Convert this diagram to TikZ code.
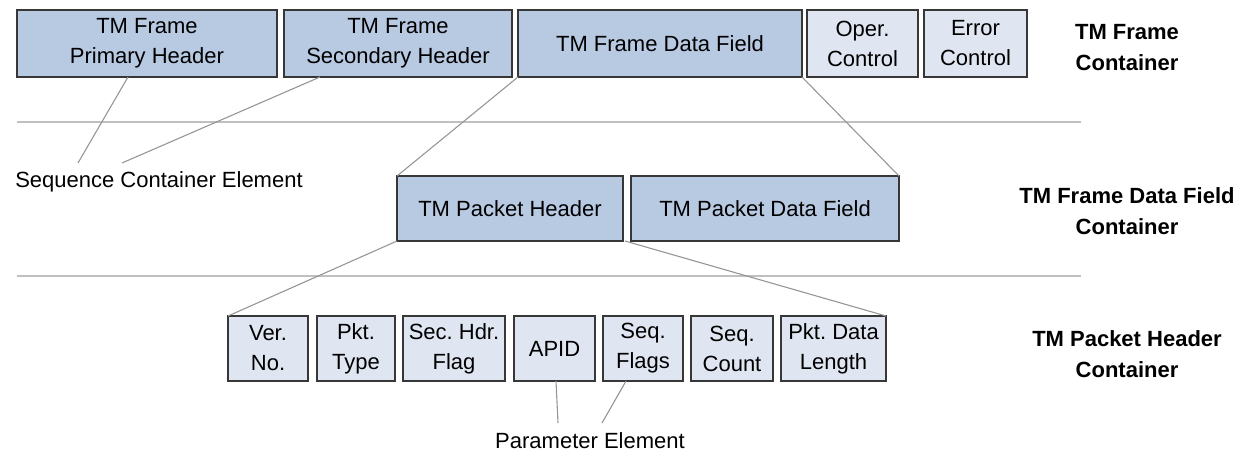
\documentclass[tikz,border=0pt]{standalone}
\usepackage{fontspec}
\setmainfont{Liberation Sans}
\frenchspacing
\begin{document}
\begin{tikzpicture}[x=1pt,y=-1pt,
  every node/.style={font=\fontsize{22}{30}\selectfont},
  boxbase/.style={draw=boxline, line width=1.6pt, inner sep=0pt, outer sep=0pt, align=center, text=black},
  darkbox/.style={boxbase, fill=darkfill},
  lightbox/.style={boxbase, fill=lightfill},
  conn/.style={draw=connline, line width=1.1pt},
  sepline/.style={draw=sepgray, line width=1.6pt},
  sidelabel/.style={align=center, font=\fontsize{22}{31}\selectfont\bfseries},
  plainlabel/.style={inner sep=0pt}
]
\definecolor{darkfill}{RGB}{184,201,226}
\definecolor{lightfill}{RGB}{223,230,241}
\definecolor{boxline}{RGB}{55,55,55}
\definecolor{connline}{RGB}{150,150,150}
\definecolor{sepgray}{RGB}{192,192,192}
\useasboundingbox (0,0) rectangle (1241,452);

% separators
\draw[sepline] (17,122) -- (1081,122);
\draw[sepline] (17,276) -- (1081,276);

% top row
\node[darkbox, minimum width=260pt, minimum height=67pt] (pri) at (147,43.5) {TM Frame\\Primary Header};
\node[darkbox, minimum width=228pt, minimum height=67pt] (sec) at (398,43.5) {TM Frame\\Secondary Header};
\node[darkbox, minimum width=284pt, minimum height=67pt] (dfld) at (660,43.5) {TM Frame Data Field};
\node[lightbox, minimum width=111pt, minimum height=67pt] (oper) at (862.5,43.5) {Oper.\\Control};
\node[lightbox, minimum width=103pt, minimum height=67pt] (err) at (975.5,43.5) {Error\\Control};

% middle row
\node[darkbox, minimum width=226pt, minimum height=65pt] (phdr) at (510,208.5) {TM Packet Header};
\node[darkbox, minimum width=268pt, minimum height=65pt] (pdf) at (765,208.5) {TM Packet Data Field};

% bottom row
\node[lightbox, minimum width=80pt, minimum height=65pt] (ver) at (268,348.5) {Ver.\\No.};
\node[lightbox, minimum width=78pt, minimum height=65pt] (ptype) at (356,348.5) {Pkt.\\Type};
\node[lightbox, minimum width=102pt, minimum height=65pt] (shf) at (454,348.5) {Sec. Hdr.\\Flag};
\node[lightbox, minimum width=81pt, minimum height=65pt] (apid) at (554.5,348.5) {APID};
\node[lightbox, minimum width=80pt, minimum height=65pt] (sflags) at (643,348.5) {Seq.\\Flags};
\node[lightbox, minimum width=82pt, minimum height=65pt] (scount) at (732,348.5) {Seq.\\Count};
\node[lightbox, minimum width=105pt, minimum height=65pt] (plen) at (833.5,348.5) {Pkt. Data\\Length};

% labels
\node[plainlabel] (sce) at (159,182) {Sequence Container Element};
\node[plainlabel] (pel) at (590,441) {Parameter Element};
\node[sidelabel] (lab1) at (1127,47.5) {TM Frame\\Container};
\node[sidelabel] (lab2) at (1127,211) {TM Frame Data Field\\Container};
\node[sidelabel] (lab3) at (1127,354) {TM Packet Header\\Container};

% free ends of element connectors
\coordinate (s1) at (78,163);
\coordinate (s2) at (122,163);
\coordinate (p1) at (558,423);
\coordinate (p2) at (602,423);

% connectors
\draw[conn] ([xshift=111pt]pri.south west) -- (s1);
\draw[conn] ([xshift=36pt]sec.south west) -- (s2);
\draw[conn] (dfld.south west) -- (phdr.north west);
\draw[conn] (dfld.south east) -- (pdf.north east);
\draw[conn] (phdr.south west) -- (ver.north west);
\draw[conn] ([xshift=2pt]phdr.south east) -- (plen.north east);
\draw[conn] ([xshift=1.5pt]apid.south) -- (p1);
\draw[conn] ([xshift=23pt]sflags.south west) -- (p2);
\end{tikzpicture}
\end{document}
